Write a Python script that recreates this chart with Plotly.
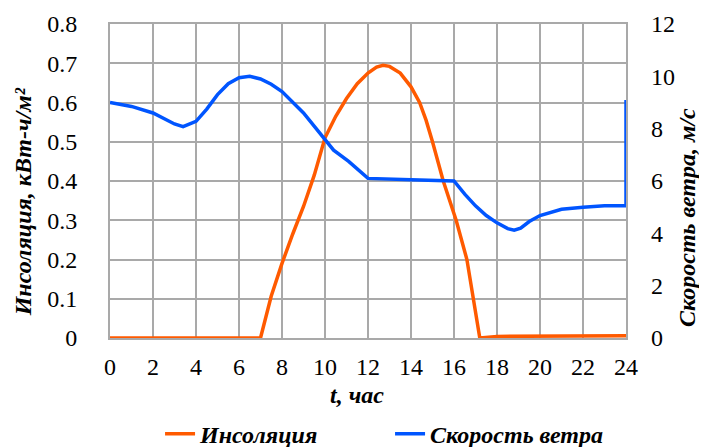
import plotly.graph_objects as go

hours_ins = [0, 2, 4, 6, 7.0, 7.5, 8.0, 8.5, 9.0, 9.5, 10.0, 10.5, 11.0, 11.5, 12.0, 12.4, 12.7, 13.0, 13.5, 14.0, 14.4, 14.7, 15.0, 15.5, 16.1, 16.6, 16.9, 17.2, 18, 20, 22, 24]
insolation = [0, 0, 0, 0, 0.0, 0.107, 0.19, 0.265, 0.335, 0.415, 0.51, 0.565, 0.61, 0.648, 0.675, 0.69, 0.695, 0.692, 0.675, 0.64, 0.6, 0.555, 0.5, 0.4, 0.3, 0.2, 0.1, 0.0, 0.004, 0.005, 0.005, 0.006]

hours_wind = [0, 1, 2, 3, 3.4, 4, 4.5, 5, 5.5, 6, 6.5, 7, 7.5, 8, 9, 10, 10.4, 11.1, 12, 14, 16, 16.5, 17, 17.5, 18, 18.5, 18.8, 19.1, 19.5, 20, 21, 22, 23, 24, 24]
wind = [9.0, 8.85, 8.6, 8.18, 8.08, 8.28, 8.75, 9.3, 9.72, 9.95, 10.0, 9.9, 9.7, 9.42, 8.6, 7.6, 7.18, 6.75, 6.1, 6.05, 6.0, 5.5, 5.05, 4.68, 4.4, 4.18, 4.12, 4.2, 4.45, 4.68, 4.92, 5.0, 5.05, 5.05, 9.1]

x_ticks = list(range(0, 25, 2))
left_ticks = [0, 0.1, 0.2, 0.3, 0.4, 0.5, 0.6, 0.7, 0.8]
left_labels = ["0", "0.1", "0.2", "0.3", "0.4", "0.5", "0.6", "0.7", "0.8"]
right_ticks = [0, 2, 4, 6, 8, 10, 12]

FONT = "Liberation Serif"
GRID = "#a9a9a9"
TICKF = dict(family=FONT, size=24, color="#000")
TITLEF = dict(family=FONT, size=24, color="#000")

fig = go.Figure()
fig.add_trace(go.Scatter(x=hours_ins, y=insolation, mode="lines", name="<b><i>Инсоляция</i></b>",
                         line=dict(color="#ff5a00", width=3.5), yaxis="y"))
fig.add_trace(go.Scatter(x=hours_wind, y=wind, mode="lines", name="<b><i>Скорость ветра</i></b>",
                         line=dict(color="#0055ff", width=3.5), yaxis="y2"))

fig.update_layout(
    width=699, height=439,
    margin=dict(l=102, r=81, t=16, b=109, autoexpand=False),
    paper_bgcolor="white", plot_bgcolor="white",
    showlegend=True,
    legend=dict(orientation="h", x=0.097, xanchor="left", y=-0.306, yanchor="middle",
                font=TITLEF, entrywidth=185, bgcolor="rgba(0,0,0,0)"),
    xaxis=dict(range=[0, 24], tickvals=x_ticks, showgrid=True, gridcolor=GRID, gridwidth=2,
               showline=True, linecolor=GRID, linewidth=2, mirror=True, zeroline=False,
               ticks="", ticklabelstandoff=6, tickfont=TICKF, automargin=False),
    yaxis=dict(range=[0, 0.8], tickvals=left_ticks, ticktext=left_labels, showgrid=True, gridcolor=GRID,
               gridwidth=2, showline=True, linecolor=GRID, linewidth=2, mirror=True, zeroline=False,
               ticks="", ticklabelstandoff=26, tickfont=TICKF, automargin=False),
    yaxis2=dict(range=[0, 12], tickvals=right_ticks, overlaying="y", side="right", showgrid=False,
                zeroline=False, showline=False, ticks="", ticklabelstandoff=24,
                tickfont=TICKF, automargin=False),
    annotations=[
        dict(text="<b><i>t, час</i></b>", x=0.479, y=-0.18, xref="paper", yref="paper",
             showarrow=False, font=TITLEF, xanchor="center", yanchor="middle"),
        dict(text="<b><i>Инсоляция, кВт-ч/м²</i></b>", x=-0.168, y=0.433, xref="paper", yref="paper",
             showarrow=False, textangle=-90, font=TITLEF, xanchor="center", yanchor="middle"),
        dict(text="<b><i>Скорость ветра, м/с</i></b>", x=1.118, y=0.385, xref="paper", yref="paper",
             showarrow=False, textangle=-90, font=TITLEF, xanchor="center", yanchor="middle"),
    ],
)

fig.write_html("out.html")
